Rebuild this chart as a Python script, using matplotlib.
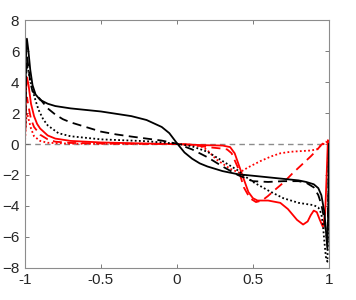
import matplotlib
matplotlib.use("Agg")
import matplotlib.pyplot as plt

plt.rcParams['font.family'] = ['Liberation Sans', 'DejaVu Sans']

# black solid
bs_x = [-1, -0.993, -0.987, -0.978, -0.965, -0.95, -0.93, -0.9, -0.85, -0.8, -0.7, -0.6, -0.5,
        -0.4, -0.3, -0.2, -0.1, -0.05, 0, 0.05, 0.1, 0.15, 0.2, 0.3, 0.4, 0.5, 0.6, 0.7, 0.8,
        0.85, 0.9, 0.93, 0.95, 0.97, 0.98, 0.99, 0.996, 1]
bs_y = [0, 5.6, 6.8, 6.1, 4.8, 3.8, 3.2, 2.85, 2.6, 2.45, 2.3, 2.2, 2.1,
        1.95, 1.8, 1.55, 1.1, 0.7, 0.05, -0.55, -0.95, -1.25, -1.45, -1.75, -1.95, -2.05, -2.15,
        -2.25, -2.35, -2.45, -2.6, -2.85, -3.3, -4.4, -5.6, -6.8, -4, 0]

# black dashed
bd_x = [-1, -0.993, -0.986, -0.977, -0.965, -0.95, -0.92, -0.9, -0.85, -0.8, -0.75, -0.7, -0.6,
        -0.5, -0.4, -0.3, -0.2, -0.1, 0, 0.1, 0.2, 0.3, 0.4, 0.5, 0.6, 0.7, 0.8, 0.85, 0.9,
        0.93, 0.95, 0.97, 0.98, 0.99, 0.996, 1]
bd_y = [0, 4.6, 5.6, 5.0, 4.0, 3.4, 3.1, 2.9, 2.3, 1.9, 1.6, 1.4, 1.1,
        0.8, 0.62, 0.48, 0.35, 0.22, 0.02, -0.35, -0.85, -1.45, -2.0, -2.4, -2.45, -2.4, -2.4,
        -2.5, -2.8, -3.3, -3.9, -4.9, -5.7, -6.2, -3.5, 0]

# black dotted
bt_x = [-1, -0.993, -0.986, -0.975, -0.96, -0.95, -0.93, -0.91, -0.88, -0.85, -0.78, -0.7,
        -0.5, -0.2, 0, 0.1, 0.2, 0.3, 0.4, 0.45, 0.5, 0.6, 0.7, 0.8, 0.9, 0.93, 0.95, 0.96,
        0.97, 0.98, 0.99, 0.996, 1]
bt_y = [0, 4.3, 5.2, 4.6, 3.9, 3.5, 2.8, 2.2, 1.6, 1.2, 0.7, 0.5,
        0.3, 0.18, 0.02, -0.15, -0.5, -1.1, -1.7, -2.1, -2.45, -3.0, -3.5, -3.8, -3.95, -4.1,
        -4.5, -5.2, -6.3, -7.3, -7.6, -4.5, 0]

# red solid
rs_x = [-1, -0.993, -0.986, -0.976, -0.96, -0.94, -0.92, -0.9, -0.85, -0.8, -0.7, -0.5, -0.2,
        0, 0.1, 0.2, 0.3, 0.35, 0.38, 0.43, 0.47, 0.5, 0.53, 0.6, 0.68, 0.73, 0.79, 0.83, 0.86,
        0.88, 0.9, 0.92, 0.94, 0.96, 0.975, 0.985, 0.993, 1]
rs_y = [0, 3.5, 4.3, 3.8, 2.6, 1.8, 1.3, 1.0, 0.55, 0.35, 0.2, 0.1, 0.03,
        0, -0.05, -0.08, -0.1, -0.2, -0.6, -2.0, -3.1, -3.5, -3.65, -3.65, -3.8, -4.2, -4.9,
        -5.2, -5.0, -4.6, -4.3, -4.4, -4.9, -5.35, -4.5, -2.0, 0.25, 0]

# red dashed
rd_x = [-1, -0.993, -0.986, -0.976, -0.96, -0.94, -0.9, -0.85, -0.8, -0.7, -0.4, 0, 0.1, 0.2,
        0.3, 0.33, 0.36, 0.4, 0.44, 0.48, 0.52, 0.56, 0.6, 0.64, 0.7, 0.76, 0.82, 0.88, 0.92,
        0.95, 0.97, 0.985, 1]
rd_y = [0, 2.5, 3.0, 2.4, 1.6, 1.1, 0.6, 0.3, 0.15, 0.07, 0.02, 0, -0.05, -0.2,
        -0.3, -0.35, -0.6, -1.5, -2.8, -3.5, -3.75, -3.65, -3.35, -3.0, -2.5, -1.9, -1.35, -0.8,
        -0.4, -0.05, 0.1, 0.15, 0]

# red dotted
rt_x = [-1, -0.993, -0.986, -0.976, -0.96, -0.94, -0.9, -0.85, -0.7, 0, 0.1, 0.17, 0.2, 0.26,
        0.35, 0.41, 0.47, 0.55, 0.62, 0.68, 0.75, 0.83, 0.88, 0.92, 0.94, 0.96, 0.98, 1]
rt_y = [0, 1.5, 2.0, 1.6, 1.0, 0.5, 0.2, 0.08, 0.02, 0, -0.05, -0.2, -0.4, -1.0,
        -1.6, -1.85, -1.5, -1.1, -0.8, -0.6, -0.5, -0.45, -0.42, -0.35, -0.15, -0.05, 0.15, 0]

xticks = [-1, -0.5, 0, 0.5, 1]
xlabels = ['-1', '-0.5', '0', '0.5', '1']
yticks = [-8, -6, -4, -2, 0, 2, 4, 6, 8]

fig = plt.figure(figsize=(3.56, 3.0), dpi=100)
ax = fig.add_axes([0.070, 0.107, 0.854, 0.826])

ax.axhline(0, color='0.55', lw=1.0, ls=(0, (4, 3)), zorder=1)

dot = (0, (1, 1.3))
ax.plot(rt_x, rt_y, color='red', lw=1.3, ls=dot)
ax.plot(rd_x, rd_y, color='red', lw=1.3, ls=(0, (5, 3)))
ax.plot(rs_x, rs_y, color='red', lw=1.3)
ax.plot(bt_x, bt_y, color='black', lw=1.3, ls=dot)
ax.plot(bd_x, bd_y, color='black', lw=1.3, ls=(0, (5, 3)))
ax.plot(bs_x, bs_y, color='black', lw=1.3)

ax.set_xlim(-1, 1)
ax.set_ylim(-8, 8)
ax.set_xticks(xticks)
ax.set_xticklabels(xlabels)
ax.set_yticks(yticks)
for s in ax.spines.values():
    s.set_color('0.55')
    s.set_linewidth(0.8)
ax.tick_params(direction='in', length=3, width=0.6, color='0.4', top=True, right=True,
               labelsize=11, labelcolor='0.15', pad=4)

fig.savefig('out.png', dpi=100)
